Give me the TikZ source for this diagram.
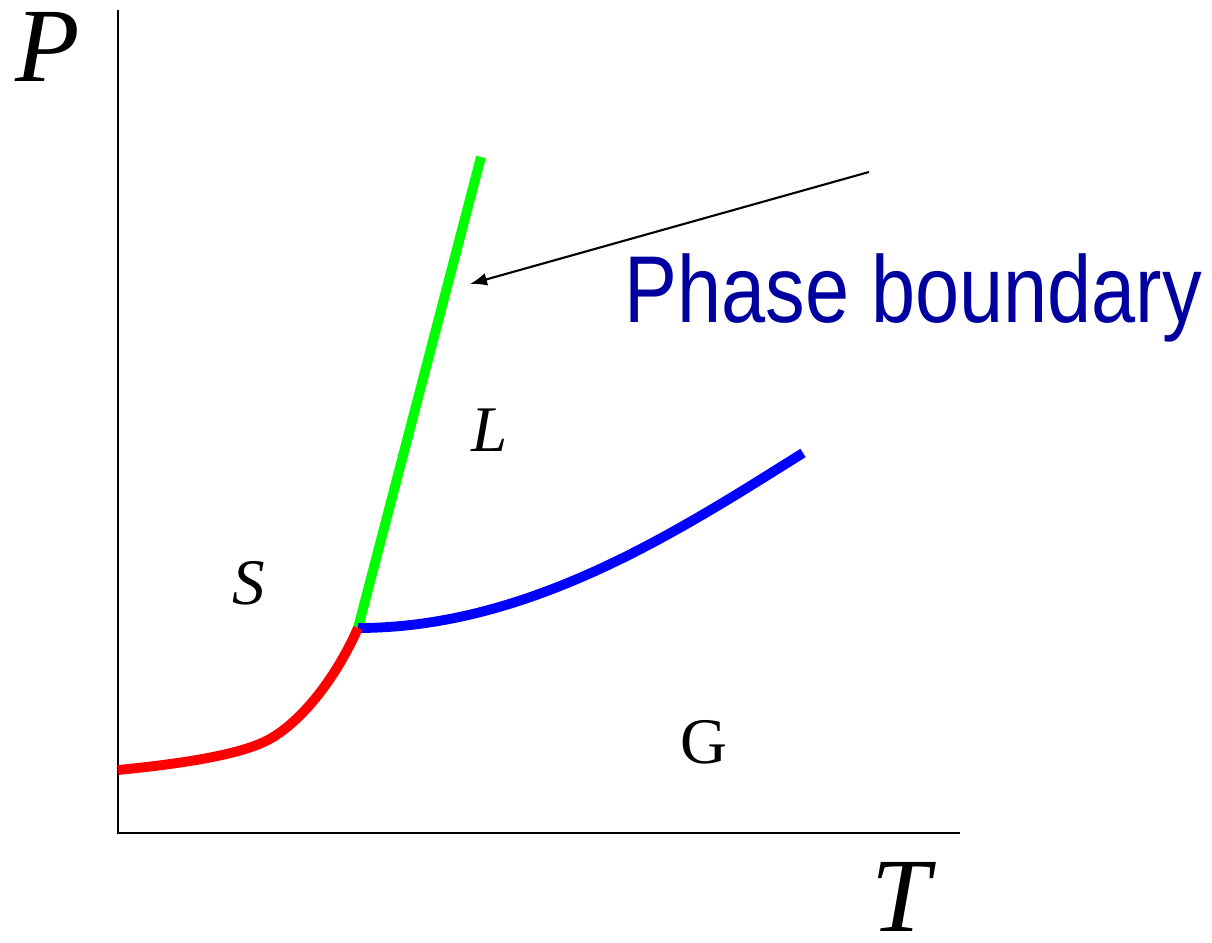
\documentclass[tikz,border=0pt]{standalone}
\usepackage{fontspec}
\setmainfont{Liberation Serif}
\newfontfamily\labelsans{Liberation Sans}
\usetikzlibrary{arrows.meta}
\definecolor{labelblue}{RGB}{0,0,160}
\definecolor{solidred}{RGB}{255,0,0}
\definecolor{liqgreen}{RGB}{0,255,0}
\definecolor{gasblue}{RGB}{0,0,255}
\tikzset{
  axis/.style={line width=0.6pt, black},
  boundary/.style={line width=2.8pt, line cap=butt},
  biglabel/.style={inner sep=0pt, font=\fontsize{30}{36}\selectfont\itshape},
  phaselabel/.style={inner sep=0pt, font=\fontsize{18.5}{22}\selectfont},
  pointer/.style={line width=0.6pt, -{Latex[length=0.17cm,width=0.13cm]}}
}
\begin{document}
\begin{tikzpicture}[x=0.01cm,y=-0.01cm]
\useasboundingbox (0,0) rectangle (1212,943);
% axes
\coordinate (ytop) at (118,10);
\coordinate (origin) at (118,833);
\coordinate (xend) at (960,833);
\draw[axis] (ytop) -- (origin) -- (xend);
% key points
\coordinate (tp) at (358,628);
\coordinate (melt) at (481,157);
\coordinate (subl) at (118,770);
\coordinate (knee) at (268,740);
\coordinate (crit) at (803,453);
% phase boundaries
\draw[boundary, liqgreen] (tp) -- (melt);
\draw[boundary, gasblue] (tp) .. controls (530,628) and (680,530) .. (crit);
\draw[boundary, solidred] (subl) .. controls (200,762) and (245,752) .. (knee)
   .. controls (300,723) and (335,680) .. (tp);
% labels
\node[biglabel] (P) at (48,47) {P};
\node[biglabel] (T) at (901,897) {T};
\node[phaselabel, font=\fontsize{18.5}{22}\selectfont\itshape] (L) at (490,430) {L};
\node[phaselabel, font=\fontsize{18.5}{22}\selectfont\itshape] (S) at (249,583) {S};
\node[phaselabel] (G) at (704,742) {G};
\node[inner sep=0pt, anchor=base west, text=labelblue] (pb) at (624,323)
  {\scalebox{0.835}[1]{\labelsans\fontsize{27}{32}\selectfont Phase boundary}};
% pointer
\coordinate (ptrstart) at (869,172);
\coordinate (ptrend) at (470,284);
\draw[pointer] (ptrstart) -- (ptrend);
\end{tikzpicture}
\end{document}
